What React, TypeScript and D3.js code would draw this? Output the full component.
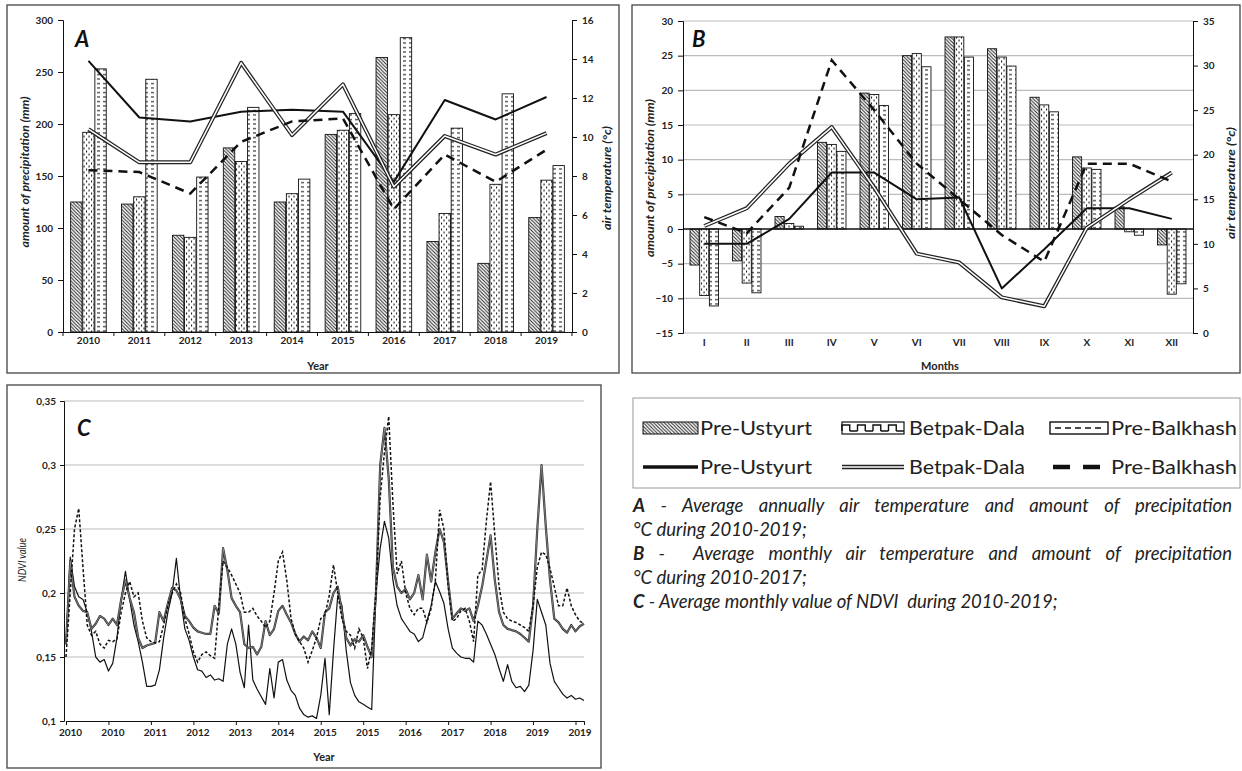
import React, { useEffect, useRef } from "react";
import * as d3 from "d3";

const regions = ["Pre-Ustyurt", "Betpak-Dala", "Pre-Balkhash"];

// Panel A: annual precipitation (mm) and air temperature (°C)
const years = ["2010", "2011", "2012", "2013", "2014", "2015", "2016", "2017", "2018", "2019"];
const annualPrecipUstyurt = [125, 123, 93, 177, 125, 190, 264, 87, 66, 110];
const annualPrecipBetpak = [192, 130, 91, 164, 133, 194, 209, 114, 142, 146];
const annualPrecipBalkhash = [253, 243, 149, 216, 147, 210, 283, 196, 229, 160];
const annualTempUstyurt = [13.9, 11.0, 10.8, 11.3, 11.4, 11.3, 7.7, 11.9, 10.9, 12.05];
const annualTempBetpak = [10.4, 8.7, 8.7, 13.8, 10.1, 12.7, 7.45, 10.05, 9.1, 10.2];
const annualTempBalkhash = [8.3, 8.2, 7.1, 9.75, 10.8, 10.95, 6.3, 9.1, 7.7, 9.35];

// Panel B: monthly precipitation (mm) and air temperature (°C)
const months = ["I", "II", "III", "IV", "V", "VI", "VII", "VIII", "IX", "X", "XI", "XII"];
const monthPrecipUstyurt = [-5.2, -4.6, 1.8, 12.5, 19.6, 25.0, 27.7, 26.0, 19.0, 10.4, 3.2, -2.3];
const monthPrecipBetpak = [-9.6, -7.8, 0.8, 12.2, 19.4, 25.3, 27.7, 24.8, 17.9, 8.8, -0.4, -9.4];
const monthPrecipBalkhash = [-11.1, -9.2, 0.4, 11.2, 17.8, 23.4, 24.8, 23.5, 16.9, 8.6, -0.9, -7.9];
const monthTempUstyurt = [10, 10, 12.8, 18, 18, 15, 15.2, 5, 9.4, 14, 14, 12.8];
const monthTempBetpak = [12, 14, 19, 23.1, 16.3, 8.9, 7.9, 4, 3, 11.8, 15, 18];
const monthTempBalkhash = [13, 11.2, 16.3, 30.6, 25, 19, 15, 11, 8, 19, 19, 17];

// Panel C: monthly NDVI, 2010-2019
const ndviTickLabels = ["2010", "2010", "2011", "2012", "2013", "2014", "2015", "2015", "2016", "2017", "2018", "2019", "2019"];
const ndviUstyurt = [
  0.16, 0.228, 0.205, 0.197, 0.195, 0.185, 0.17, 0.15, 0.146, 0.148,
  0.139, 0.145, 0.165, 0.195, 0.217, 0.195, 0.175, 0.162, 0.146, 0.127,
  0.127, 0.128, 0.14, 0.165, 0.185, 0.2, 0.227, 0.195, 0.172, 0.163,
  0.15, 0.14, 0.139, 0.134, 0.136, 0.132, 0.133, 0.131, 0.16, 0.172,
  0.16, 0.138, 0.126, 0.175, 0.132, 0.125, 0.119, 0.113, 0.141, 0.118,
  0.146, 0.148, 0.132, 0.124, 0.12, 0.11, 0.105, 0.103, 0.104, 0.102,
  0.12, 0.149, 0.105, 0.155, 0.198, 0.19, 0.155, 0.13, 0.12, 0.115,
  0.113, 0.111, 0.109, 0.2, 0.235, 0.256, 0.243, 0.21, 0.19, 0.18,
  0.175, 0.17, 0.168, 0.162, 0.165, 0.178, 0.19, 0.209, 0.201, 0.192,
  0.172, 0.157, 0.153, 0.15, 0.149, 0.149, 0.146, 0.178, 0.175, 0.168,
  0.16, 0.152, 0.141, 0.131, 0.144, 0.131, 0.126, 0.127, 0.123, 0.128,
  0.155, 0.195, 0.185, 0.175, 0.145, 0.131, 0.126, 0.121, 0.118, 0.12,
  0.117, 0.118, 0.116,
];
const ndviBetpak = [
  0.16, 0.225, 0.197, 0.19, 0.186, 0.185, 0.172, 0.176, 0.182, 0.18,
  0.175, 0.18, 0.175, 0.195, 0.21, 0.196, 0.185, 0.165, 0.157, 0.159,
  0.16, 0.161, 0.185, 0.178, 0.192, 0.204, 0.202, 0.195, 0.182, 0.178,
  0.173, 0.17, 0.169, 0.168, 0.168, 0.19, 0.184, 0.235, 0.218, 0.196,
  0.19, 0.185, 0.16, 0.157, 0.158, 0.152, 0.158, 0.178, 0.167, 0.172,
  0.186, 0.19, 0.183, 0.177, 0.168, 0.162, 0.166, 0.163, 0.17, 0.165,
  0.157, 0.185, 0.188, 0.2, 0.205, 0.185, 0.165, 0.159, 0.164, 0.162,
  0.167, 0.158, 0.15, 0.2, 0.3, 0.329, 0.29, 0.22, 0.205, 0.2,
  0.203, 0.195, 0.2, 0.214, 0.195, 0.23, 0.209, 0.232, 0.25, 0.24,
  0.209, 0.18, 0.184, 0.188, 0.186, 0.188, 0.178, 0.19, 0.205, 0.225,
  0.245, 0.21, 0.185, 0.175, 0.172, 0.171, 0.17, 0.168, 0.165, 0.162,
  0.19, 0.25, 0.3, 0.252, 0.21, 0.18, 0.177, 0.172, 0.169, 0.175,
  0.17, 0.174, 0.176,
];
const ndviBalkhash = [
  0.15, 0.2, 0.25, 0.266, 0.22, 0.175, 0.167, 0.17, 0.16, 0.157,
  0.163, 0.162, 0.164, 0.185, 0.2, 0.209, 0.197, 0.2, 0.178, 0.165,
  0.162, 0.161, 0.162, 0.175, 0.19, 0.2, 0.207, 0.2, 0.18, 0.168,
  0.154, 0.146, 0.152, 0.154, 0.151, 0.149, 0.19, 0.225, 0.22, 0.214,
  0.207, 0.2, 0.185, 0.185, 0.188, 0.182, 0.178, 0.173, 0.178, 0.2,
  0.225, 0.232, 0.21, 0.18, 0.168, 0.162, 0.157, 0.146, 0.155, 0.165,
  0.18, 0.183, 0.198, 0.222, 0.2, 0.18, 0.17, 0.167, 0.157, 0.172,
  0.165, 0.141, 0.157, 0.2, 0.275, 0.31, 0.338, 0.27, 0.215, 0.225,
  0.2, 0.188, 0.183, 0.188, 0.188, 0.177, 0.188, 0.21, 0.265, 0.25,
  0.205, 0.178, 0.18, 0.186, 0.188, 0.178, 0.162, 0.214, 0.218, 0.256,
  0.287, 0.245, 0.205, 0.185, 0.18, 0.178, 0.177, 0.175, 0.173, 0.17,
  0.19, 0.22, 0.232, 0.23, 0.219, 0.205, 0.19, 0.19, 0.204, 0.19,
  0.183, 0.178, 0.176,
];

const captionLines = [
  { lead: "A", rest: " - Average annually air temperature and amount of precipitation" },
  { lead: "", rest: "°C during 2010-2019;" },
  { lead: "B", rest: " -  Average monthly air temperature and amount of precipitation" },
  { lead: "", rest: "°C during 2010-2017;" },
  { lead: "C", rest: " - Average monthly value of NDVI  during 2010-2019;" },
];
// justified lines are stretched to this width with word spacing; 0 = natural width
const captionWidths = [599, 0, 599, 0, 0];

const FONT = "Lato, 'Open Sans', 'DejaVu Sans', sans-serif";
const patterns = ["url(#pat-hatch)", "url(#pat-dots)", "url(#pat-dash)"];
const lineStyles = ["solid", "double", "dashed"];

function drawLine(g: any, pts: [number, number][], style: string, scale = 1) {
  const d = d3.line()(pts);
  if (style === "double") {
    const small = scale < 1;
    g.append("path").attr("d", d).attr("fill", "none").attr("stroke", small ? "#333" : "#222")
      .attr("stroke-width", small ? 2.2 : 4 * scale).attr("stroke-linejoin", "round");
    g.append("path").attr("d", d).attr("fill", "none").attr("stroke", small ? "#aaa" : "#fff")
      .attr("stroke-width", small ? 0.6 : 1.5 * scale).attr("stroke-linejoin", "round");
  } else if (style === "dashed") {
    g.append("path").attr("d", d).attr("fill", "none").attr("stroke", "#111").attr("stroke-width", 2.5 * scale).attr("stroke-dasharray", scale < 1 ? "3,2" : "9,6");
  } else {
    g.append("path").attr("d", d).attr("fill", "none").attr("stroke", "#111").attr("stroke-width", 2 * scale).attr("stroke-linejoin", "round");
  }
}

function styleAxis(ax: any, size = 10) {
  ax.select(".domain").attr("stroke", "#111").attr("stroke-width", 1);
  ax.selectAll(".tick line").attr("stroke", "#111");
  ax.selectAll("text").attr("font-family", FONT).attr("font-weight", "bold").attr("font-size", size).attr("fill", "#222");
}

function rotatedTitle(g: any, x: number, y: number, label: string, len: number, bold = true) {
  g.append("text")
    .attr("transform", `translate(${x},${y}) rotate(-90)`)
    .attr("text-anchor", "middle")
    .attr("dominant-baseline", "central")
    .attr("font-family", FONT)
    .attr("font-style", "italic")
    .attr("font-weight", bold ? "bold" : "normal")
    .attr("font-size", 10.5)
    .attr("textLength", len)
    .attr("lengthAdjust", "spacingAndGlyphs")
    .attr("fill", "#222")
    .text(label);
}

function panelLetter(g: any, x: number, y: number, letter: string) {
  g.append("text").attr("x", x).attr("y", y).attr("font-family", FONT).attr("font-weight", "bold")
    .attr("font-style", "italic").attr("font-size", 22).attr("fill", "#111").text(letter);
}

export default function App() {
  const svgRef = useRef<SVGSVGElement>(null);

  useEffect(() => {
    const svg = d3.select(svgRef.current);
    svg.selectAll("*").remove();

    // ---- patterns ----
    const defs = svg.append("defs");
    const hatch = defs.append("pattern").attr("id", "pat-hatch").attr("patternUnits", "userSpaceOnUse").attr("width", 3.5).attr("height", 3.5);
    hatch.append("rect").attr("width", 3.5).attr("height", 3.5).attr("fill", "#fff");
    hatch.append("path").attr("d", "M-1,2.5L1,4.5M0,0L3.5,3.5M2.5,-1L4.5,1").attr("stroke", "#222").attr("stroke-width", 1);
    const dots = defs.append("pattern").attr("id", "pat-dots").attr("patternUnits", "userSpaceOnUse").attr("width", 5).attr("height", 6);
    dots.append("rect").attr("width", 5).attr("height", 6).attr("fill", "#fff");
    dots.append("rect").attr("x", 1).attr("y", 0.5).attr("width", 1.1).attr("height", 2).attr("fill", "#222");
    dots.append("rect").attr("x", 3.5).attr("y", 3.5).attr("width", 1.1).attr("height", 2).attr("fill", "#222");
    const dash = defs.append("pattern").attr("id", "pat-dash").attr("patternUnits", "userSpaceOnUse").attr("width", 6).attr("height", 4.5);
    dash.append("rect").attr("width", 6).attr("height", 4.5).attr("fill", "#fff");
    dash.append("rect").attr("x", 1).attr("y", 2).attr("width", 3).attr("height", 1.1).attr("fill", "#222");

    svg.append("rect").attr("width", 1242).attr("height", 771).attr("fill", "#fff");

    // ---- frames ----
    const frames = [[7, 5, 612, 368], [632, 5, 608, 368], [7, 385, 594, 383]];
    frames.forEach(([x, y, w, h]) => {
      svg.append("rect").attr("x", x).attr("y", y).attr("width", w).attr("height", h)
        .attr("fill", "none").attr("stroke", "#444").attr("stroke-width", 1.3);
    });

    // ================= Panel A =================
    const gA = svg.append("g");
    const xA = d3.scaleBand().domain(years).range([63, 572]).paddingInner(0.3).paddingOuter(0.15);
    const subA = d3.scaleBand().domain(regions).range([0, xA.bandwidth()]).paddingInner(0.06);
    const yA = d3.scaleLinear().domain([0, 300]).range([332, 20]);
    const yAT = d3.scaleLinear().domain([0, 16]).range([332, 20]);
    const precipA = [annualPrecipUstyurt, annualPrecipBetpak, annualPrecipBalkhash];
    const tempA = [annualTempUstyurt, annualTempBetpak, annualTempBalkhash];

    precipA.forEach((vals, si) => {
      gA.selectAll(`.barA${si}`).data(vals).enter().append("rect")
        .attr("x", (_d, i) => (xA(years[i]) as number) + (subA(regions[si]) as number))
        .attr("y", (d) => yA(d))
        .attr("width", subA.bandwidth())
        .attr("height", (d) => yA(0) - yA(d))
        .attr("fill", patterns[si]).attr("stroke", "#111").attr("stroke-width", 0.9);
    });

    const axLA = gA.append("g").attr("transform", "translate(63,0)")
      .call(d3.axisLeft(yA).tickValues(d3.range(0, 301, 50)).tickSize(5).tickPadding(5));
    styleAxis(axLA);
    const axRA = gA.append("g").attr("transform", "translate(572,0)")
      .call(d3.axisRight(yAT).tickValues(d3.range(0, 17, 2)).tickSize(5).tickPadding(5));
    styleAxis(axRA);
    const axBA = gA.append("g").attr("transform", "translate(0,332)")
      .call(d3.axisBottom(xA).tickSize(0).tickPadding(5));
    styleAxis(axBA);
    const gapA = (xA.step() - xA.bandwidth()) / 2;
    const bndA = years.map((y) => (xA(y) as number) - gapA).concat([(xA(years[9]) as number) + xA.bandwidth() + gapA]);
    gA.selectAll(".bndA").data(bndA).enter().append("line")
      .attr("x1", (d) => d).attr("x2", (d) => d).attr("y1", 332).attr("y2", 336).attr("stroke", "#111");

    tempA.forEach((vals, si) => {
      const pts = vals.map((v, i) => [(xA(years[i]) as number) + xA.bandwidth() / 2, yAT(v)] as [number, number]);
      drawLine(gA, pts, lineStyles[si]);
    });

    rotatedTitle(gA, 25, 172, "amount of precipitation (mm)", 151);
    rotatedTitle(gA, 607, 178, "air temperature (°c)", 104);
    gA.append("text").attr("x", 318).attr("y", 370).attr("text-anchor", "middle").attr("font-family", FONT)
      .attr("font-weight", "bold").attr("font-size", 11).attr("fill", "#222").text("Year");
    panelLetter(gA, 75, 47, "A");

    // ================= Panel B =================
    const gB = svg.append("g");
    const xB = d3.scaleBand().domain(months).range([683, 1193]).paddingInner(0.33).paddingOuter(0.165);
    const subB = d3.scaleBand().domain(regions).range([0, xB.bandwidth()]).paddingInner(0.06);
    const yB = d3.scaleLinear().domain([-15, 30]).range([333, 21]);
    const yBT = d3.scaleLinear().domain([0, 35]).range([333, 21]);
    const precipB = [monthPrecipUstyurt, monthPrecipBetpak, monthPrecipBalkhash];
    const tempB = [monthTempUstyurt, monthTempBetpak, monthTempBalkhash];

    gB.selectAll(".gridB").data(d3.range(-15, 31, 5).filter((v) => v !== 0)).enter().append("line")
      .attr("x1", 683).attr("x2", 1193).attr("y1", (d) => yB(d)).attr("y2", (d) => yB(d))
      .attr("stroke", "#bbb").attr("stroke-width", 1.2);

    precipB.forEach((vals, si) => {
      gB.selectAll(`.barB${si}`).data(vals).enter().append("rect")
        .attr("x", (_d, i) => (xB(months[i]) as number) + (subB(regions[si]) as number))
        .attr("y", (d) => yB(Math.max(d, 0)))
        .attr("width", subB.bandwidth())
        .attr("height", (d) => Math.abs(yB(d) - yB(0)))
        .attr("fill", patterns[si]).attr("stroke", "#111").attr("stroke-width", 0.9);
    });

    gB.append("line").attr("x1", 683).attr("x2", 1193).attr("y1", yB(0)).attr("y2", yB(0))
      .attr("stroke", "#111").attr("stroke-width", 1.3);
    const axLB = gB.append("g").attr("transform", "translate(683,0)")
      .call(d3.axisLeft(yB).tickValues(d3.range(-15, 31, 5)).tickSize(5).tickPadding(5));
    styleAxis(axLB);
    const axRB = gB.append("g").attr("transform", "translate(1193,0)")
      .call(d3.axisRight(yBT).tickValues(d3.range(0, 36, 5)).tickSize(5).tickPadding(5));
    styleAxis(axRB);
    const axBB = gB.append("g").attr("transform", "translate(0,333)")
      .call(d3.axisBottom(xB).tickSize(0).tickPadding(6));
    axBB.select(".domain").remove();
    styleAxis(axBB);

    tempB.forEach((vals, si) => {
      const pts = vals.map((v, i) => [(xB(months[i]) as number) + xB.bandwidth() / 2, yBT(v)] as [number, number]);
      drawLine(gB, pts, lineStyles[si]);
    });

    rotatedTitle(gB, 650, 178, "amount of precipitation (mm)", 158);
    rotatedTitle(gB, 1231, 183, "air temperature (°c)", 112);
    gB.append("text").attr("x", 940).attr("y", 370).attr("text-anchor", "middle").attr("font-family", FONT)
      .attr("font-weight", "bold").attr("font-size", 11).attr("fill", "#222").text("Months");
    panelLetter(gB, 692, 47, "B");

    // ================= Panel C =================
    const gC = svg.append("g");
    const xC = d3.scaleLinear().domain([0, 122]).range([66, 584]);
    const yC = d3.scaleLinear().domain([0.1, 0.35]).range([721, 401]);
    const fmt = (d: number) => d3.format(".2~f")(d).replace(".", ",");

    gC.selectAll(".gridC").data([0.15, 0.2, 0.25, 0.3, 0.35]).enter().append("line")
      .attr("x1", 64).attr("x2", 584).attr("y1", (d) => yC(d)).attr("y2", (d) => yC(d))
      .attr("stroke", "#bbb").attr("stroke-width", 1.2);

    const axLC = gC.append("g").attr("transform", "translate(64,0)")
      .call(d3.axisLeft(yC).tickValues([0.1, 0.15, 0.2, 0.25, 0.3, 0.35]).tickFormat(fmt as any).tickSize(4).tickPadding(4));
    styleAxis(axLC);
    const axBC = gC.append("g").attr("transform", "translate(0,721)")
      .call(d3.axisBottom(xC).tickValues(d3.range(0, 121, 10)).tickFormat((_d: any, i: number) => ndviTickLabels[i]).tickSize(4).tickPadding(4));
    styleAxis(axBC);
    axBC.selectAll("text").attr("dx", 4);

    [ndviUstyurt, ndviBetpak, ndviBalkhash].forEach((vals, si) => {
      const pts = vals.map((v, i) => [xC(i), yC(v)] as [number, number]);
      drawLine(gC, pts, lineStyles[si], 0.6);
    });

    rotatedTitle(gC, 22, 560, "NDVI value", 44, false);
    gC.append("text").attr("x", 324).attr("y", 761).attr("text-anchor", "middle").attr("font-family", FONT)
      .attr("font-weight", "bold").attr("font-size", 11).attr("fill", "#222").text("Year");
    panelLetter(gC, 77, 436, "C");

    // ================= Legend =================
    const gL = svg.append("g");
    gL.append("rect").attr("x", 633).attr("y", 398).attr("width", 607).attr("height", 90)
      .attr("fill", "#fff").attr("stroke", "#999").attr("stroke-width", 1);
    const swX = [643, 842, 1050];
    const swW = [55, 62, 58];
    const txtX = [700, 909, 1111];
    const txtW = [112, 116, 126];
    regions.forEach((name, i) => {
      // row 1: bar swatches
      if (i === 1) {
        gL.append("rect").attr("x", swX[i]).attr("y", 422).attr("width", swW[i]).attr("height", 12)
          .attr("fill", "#fff").attr("stroke", "#111").attr("stroke-width", 1.2);
        const step = swW[i] / 8;
        const wave = d3.range(8).map((k) => {
          const x0 = swX[i] + k * step;
          return k % 2 === 0 ? `M${x0},431V425H${x0 + step}V431` : `M${x0},431H${x0 + step}`;
        }).join("");
        gL.append("path").attr("d", wave).attr("fill", "none").attr("stroke", "#111").attr("stroke-width", 1.4);
      } else if (i === 2) {
        gL.append("rect").attr("x", swX[i]).attr("y", 422).attr("width", swW[i]).attr("height", 12)
          .attr("fill", "#fff").attr("stroke", "#111").attr("stroke-width", 1.4);
        gL.append("line").attr("x1", swX[i] + 5).attr("x2", swX[i] + swW[i] - 3).attr("y1", 428).attr("y2", 428)
          .attr("stroke", "#111").attr("stroke-width", 1.6).attr("stroke-dasharray", "6,4");
      } else {
        gL.append("rect").attr("x", swX[i]).attr("y", 422).attr("width", swW[i]).attr("height", 12)
          .attr("fill", patterns[i]).attr("stroke", "#111").attr("stroke-width", 1);
      }
      gL.append("text").attr("x", txtX[i]).attr("y", 435).attr("font-family", FONT).attr("font-size", 19)
        .attr("fill", "#222").attr("textLength", txtW[i]).attr("lengthAdjust", "spacingAndGlyphs").text(name);

      // row 2: line swatches
      const y2 = 467;
      if (i === 2) {
        gL.append("line").attr("x1", 1053).attr("x2", 1100).attr("y1", y2).attr("y2", y2)
          .attr("stroke", "#111").attr("stroke-width", 4.5).attr("stroke-dasharray", "17,13");
      } else if (i === 1) {
        drawLine(gL, [[swX[i], y2], [swX[i] + swW[i], y2]], "double", 1.15);
      } else {
        gL.append("line").attr("x1", swX[i]).attr("x2", swX[i] + swW[i]).attr("y1", y2).attr("y2", y2)
          .attr("stroke", "#111").attr("stroke-width", 3.5);
      }
      gL.append("text").attr("x", txtX[i]).attr("y", 474).attr("font-family", FONT).attr("font-size", 19)
        .attr("fill", "#222").attr("textLength", txtW[i]).attr("lengthAdjust", "spacingAndGlyphs").text(name);
    });

    // ================= Caption (justified with word spacing) =================
    captionLines.forEach((ln, i) => {
      const t = svg.append("text").attr("x", 633).attr("y", 512 + i * 24).attr("font-family", FONT)
        .attr("font-style", "italic").attr("font-size", 18.5).attr("fill", "#222")
        .attr("xml:space", "preserve");
      if (ln.lead) t.append("tspan").attr("font-weight", "bold").text(ln.lead);
      t.append("tspan").text(ln.rest);
      if (captionWidths[i] > 0) {
        const node = t.node() as SVGTextElement;
        const natural = node.getComputedTextLength();
        const spaces = (ln.lead + ln.rest).split(" ").length - 1;
        if (spaces > 0 && natural < captionWidths[i]) {
          t.attr("word-spacing", (captionWidths[i] - natural) / spaces);
        }
      }
    });
  }, []);

  return (
    <svg
      ref={svgRef}
      width={1242}
      height={771}
      style={{ position: "absolute", left: 0, top: 0, display: "block" }}
    />
  );
}
